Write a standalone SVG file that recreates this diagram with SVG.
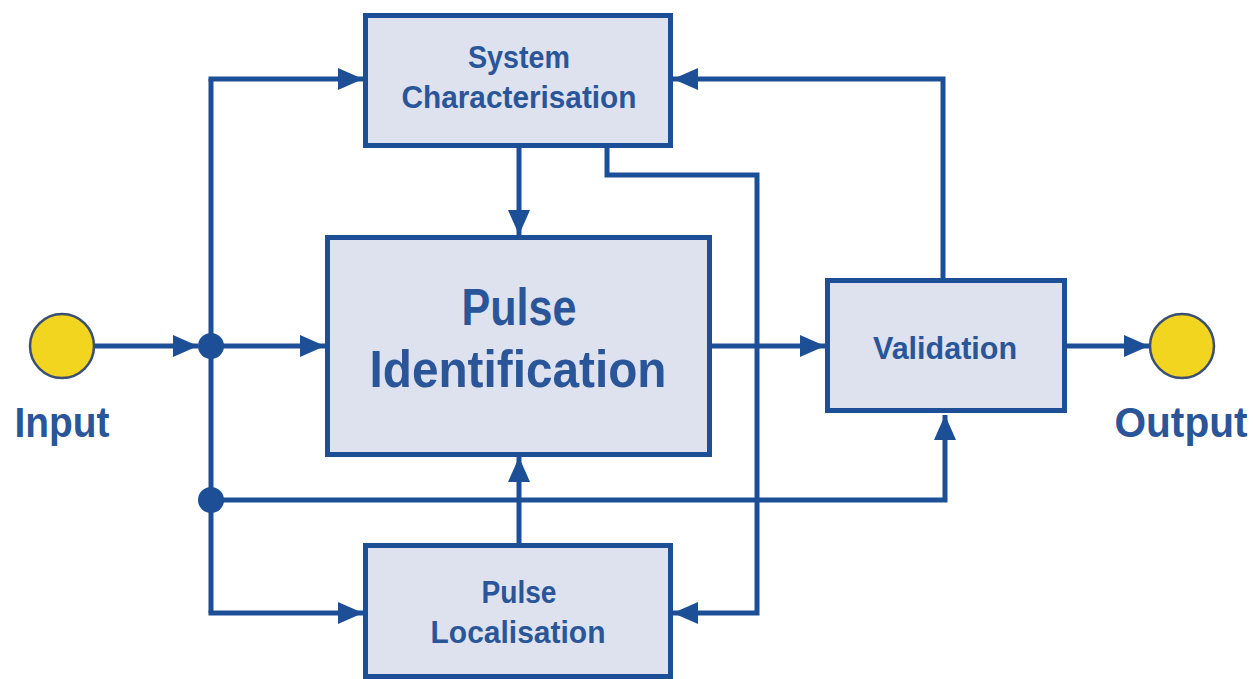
<svg xmlns="http://www.w3.org/2000/svg" width="1253" height="679" viewBox="0 0 1253 679">
  <style>
    .box { fill: #dde2ee; stroke: #1d4f96; stroke-width: 5; }
    .wire { fill: none; stroke: #1d4f96; stroke-width: 5; }
    .dot { fill: #1d4f96; }
    .term { fill: #f1d51e; stroke: #3b4f72; stroke-width: 2.5; }
    text { font-family: "Liberation Sans", Arial, sans-serif; font-weight: bold; fill: #2a5699; text-anchor: middle; }
  </style>
  <defs>
    <marker id="arrow" markerUnits="userSpaceOnUse" markerWidth="27" markerHeight="22" refX="25" refY="11" orient="auto">
      <path d="M0,0 L25,11 L0,22 Z" fill="#1d4f96"/>
    </marker>
  </defs>

  <rect width="1253" height="679" fill="#ffffff"/>

  <!-- connectors -->
  <g id="connectors">
    <path class="wire" d="M94,346 H198" marker-end="url(#arrow)"/>
    <path class="wire" d="M211,346 H325" marker-end="url(#arrow)"/>
    <path class="wire" d="M211,79 V613"/>
    <path class="wire" d="M208.5,79 H363" marker-end="url(#arrow)"/>
    <path class="wire" d="M208.5,613 H363" marker-end="url(#arrow)"/>
    <path class="wire" d="M211,500 H945 V415" marker-end="url(#arrow)"/>
    <path class="wire" d="M519,148 V235" marker-end="url(#arrow)"/>
    <path class="wire" d="M607,148 V175 H757 V613 H673" marker-end="url(#arrow)"/>
    <path class="wire" d="M519,543 V457" marker-end="url(#arrow)"/>
    <path class="wire" d="M712,346 H825" marker-end="url(#arrow)"/>
    <path class="wire" d="M943,278 V79 H673" marker-end="url(#arrow)"/>
    <path class="wire" d="M1067,346 H1149" marker-end="url(#arrow)"/>
    <circle class="dot" cx="211" cy="346" r="13"/>
    <circle class="dot" cx="211" cy="500" r="13"/>
  </g>

  <g id="input">
    <circle class="term" cx="62" cy="346" r="32"/>
    <text x="62" y="437" font-size="42" textLength="95" lengthAdjust="spacingAndGlyphs">Input</text>
  </g>

  <g id="output">
    <circle class="term" cx="1182" cy="346" r="32"/>
    <text x="1181" y="437" font-size="42" textLength="133" lengthAdjust="spacingAndGlyphs">Output</text>
  </g>

  <g id="system-characterisation">
    <rect class="box" x="365.5" y="15.5" width="305" height="130"/>
    <text x="519" y="68" font-size="32" textLength="102" lengthAdjust="spacingAndGlyphs">System</text>
    <text x="519" y="108" font-size="32" textLength="235" lengthAdjust="spacingAndGlyphs">Characterisation</text>
  </g>

  <g id="pulse-identification">
    <rect class="box" x="327.5" y="237.5" width="382" height="217"/>
    <text x="519" y="325" font-size="52" textLength="115" lengthAdjust="spacingAndGlyphs">Pulse</text>
    <text x="518" y="387" font-size="52" textLength="297" lengthAdjust="spacingAndGlyphs">Identification</text>
  </g>

  <g id="validation">
    <rect class="box" x="827.5" y="280.5" width="237" height="130"/>
    <text x="945" y="359" font-size="32" textLength="144" lengthAdjust="spacingAndGlyphs">Validation</text>
  </g>

  <g id="pulse-localisation">
    <rect class="box" x="365.5" y="545.5" width="305" height="131"/>
    <text x="519" y="603" font-size="32" textLength="75" lengthAdjust="spacingAndGlyphs">Pulse</text>
    <text x="518" y="643" font-size="32" textLength="175" lengthAdjust="spacingAndGlyphs">Localisation</text>
  </g>
</svg>
